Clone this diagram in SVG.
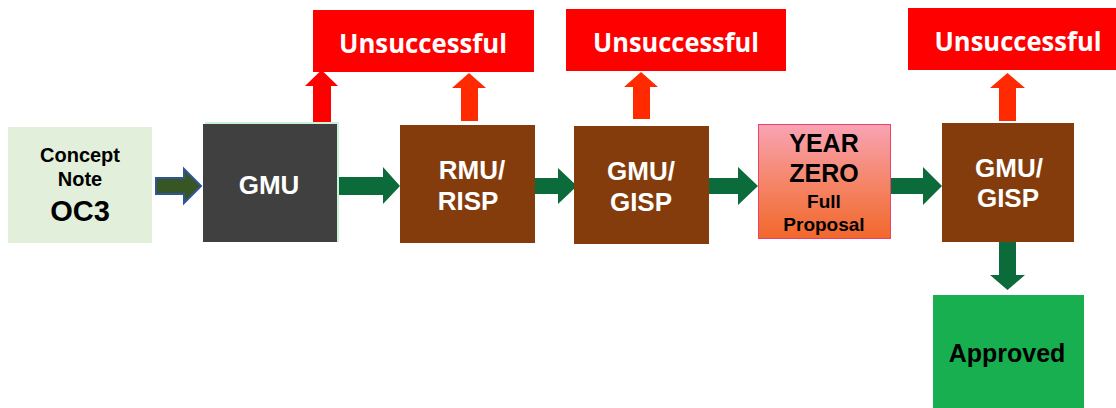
<svg xmlns="http://www.w3.org/2000/svg" width="1116" height="408" viewBox="0 0 1116 408">
<defs>
<linearGradient id="yz" x1="0" y1="0" x2="0" y2="1">
<stop offset="0" stop-color="#f9a3b4"/>
<stop offset="0.5" stop-color="#f5866a"/>
<stop offset="1" stop-color="#f2672b"/>
</linearGradient>
<style>
.t{font-family:"Liberation Sans",Arial,sans-serif;font-weight:bold;text-anchor:middle}
.w{fill:#ffffff}
.k{fill:#000000}
.u{font-family:"Open Sans","Liberation Sans",sans-serif;font-weight:bold;font-size:27px;fill:#ffffff;text-anchor:middle}
.red{fill:#ff0000}
.brown{fill:#843c0c}
.ga{fill:#0b6b3a}
.ra{fill:#ff2a00}
</style>
</defs>
<rect width="1116" height="408" fill="#ffffff"/>
<g id="connectors">
<path d="M156,178 H184 V169 L201,186 L184,203 V194 H156 Z" fill="#375623" stroke="#2f5597" stroke-width="2"/>
<path class="ga" d="M337,177 H383 V167 L400,186 L383,204 V195 H337 Z"/>
<path class="ga" d="M535,178 H558 V168 L577,186 L558,204 V194 H535 Z"/>
<path class="ga" d="M709,178 H738 V167 L758,186 L738,205 V194 H709 Z"/>
<path class="ga" d="M891,178 H923 V167 L942,186 L923,205 V194 H891 Z"/>
<path class="ga" d="M999,242 H1016 V275 H1025 L1007.5,290 L990,275 H999 Z"/>
<path class="red" d="M313,124 V86 H305 L321.5,70 L338,86 H331 V124 Z"/>
<path class="ra" d="M461,121 V88 H452 L469,73 L486,88 H478 V121 Z"/>
<path class="ra" d="M633,119 V87 H624 L641,72 L658,87 H650 V119 Z"/>
<path class="ra" d="M999,121 V88 H990 L1007.5,73 L1025,88 H1016 V121 Z"/>
</g>
<g id="concept-note">
<rect x="8" y="127" width="144" height="116" fill="#e2efda"/>
<text class="t k" x="80" y="162" font-size="20">Concept</text>
<text class="t k" x="80" y="186" font-size="20">Note</text>
<text class="t k" x="80" y="221" font-size="29">OC3</text>
</g>
<g id="gmu">
<rect x="205" y="122" width="134" height="120" fill="#c9f3d9"/>
<rect x="203" y="124" width="134" height="118" fill="#404040"/>
<text class="t w" x="269" y="194" font-size="26">GMU</text>
</g>
<g id="unsuccessful-1">
<rect class="red" x="313" y="10" width="221" height="62"/>
<text class="u" x="423" y="53" textLength="168" lengthAdjust="spacingAndGlyphs">Unsuccessful</text>
</g>
<g id="rmu-risp">
<rect class="brown" x="400" y="125" width="135" height="118"/>
<text class="t w" x="472" y="179" font-size="26">RMU/</text>
<text class="t w" x="468" y="210" font-size="26">RISP</text>
</g>
<g id="unsuccessful-2">
<rect class="red" x="566" y="9" width="220" height="62"/>
<text class="u" x="676" y="52" textLength="166" lengthAdjust="spacingAndGlyphs">Unsuccessful</text>
</g>
<g id="gmu-gisp-1">
<rect class="brown" x="574" y="126" width="135" height="118"/>
<text class="t w" x="641" y="180" font-size="26">GMU/</text>
<text class="t w" x="641" y="211" font-size="26">GISP</text>
</g>
<g id="year-zero">
<rect x="758.5" y="124.5" width="132" height="114" fill="url(#yz)" stroke="#e8436a" stroke-width="1"/>
<text class="t k" x="824" y="152" font-size="25">YEAR</text>
<text class="t k" x="824" y="182" font-size="25">ZERO</text>
<text class="t k" x="824" y="208" font-size="19">Full</text>
<text class="t k" x="824" y="231" font-size="19">Proposal</text>
</g>
<g id="gmu-gisp-2">
<rect class="brown" x="942" y="123" width="132" height="119"/>
<text class="t w" x="1009" y="177" font-size="26">GMU/</text>
<text class="t w" x="1008" y="207" font-size="26">GISP</text>
</g>
<g id="unsuccessful-3">
<rect class="red" x="908" y="8" width="208" height="62"/>
<text class="u" x="1018" y="51" textLength="167" lengthAdjust="spacingAndGlyphs">Unsuccessful</text>
</g>
<g id="approved">
<rect x="933" y="295" width="151" height="113" fill="#17af4f"/>
<text class="t k" x="1007" y="362" font-size="25">Approved</text>
</g>
</svg>
